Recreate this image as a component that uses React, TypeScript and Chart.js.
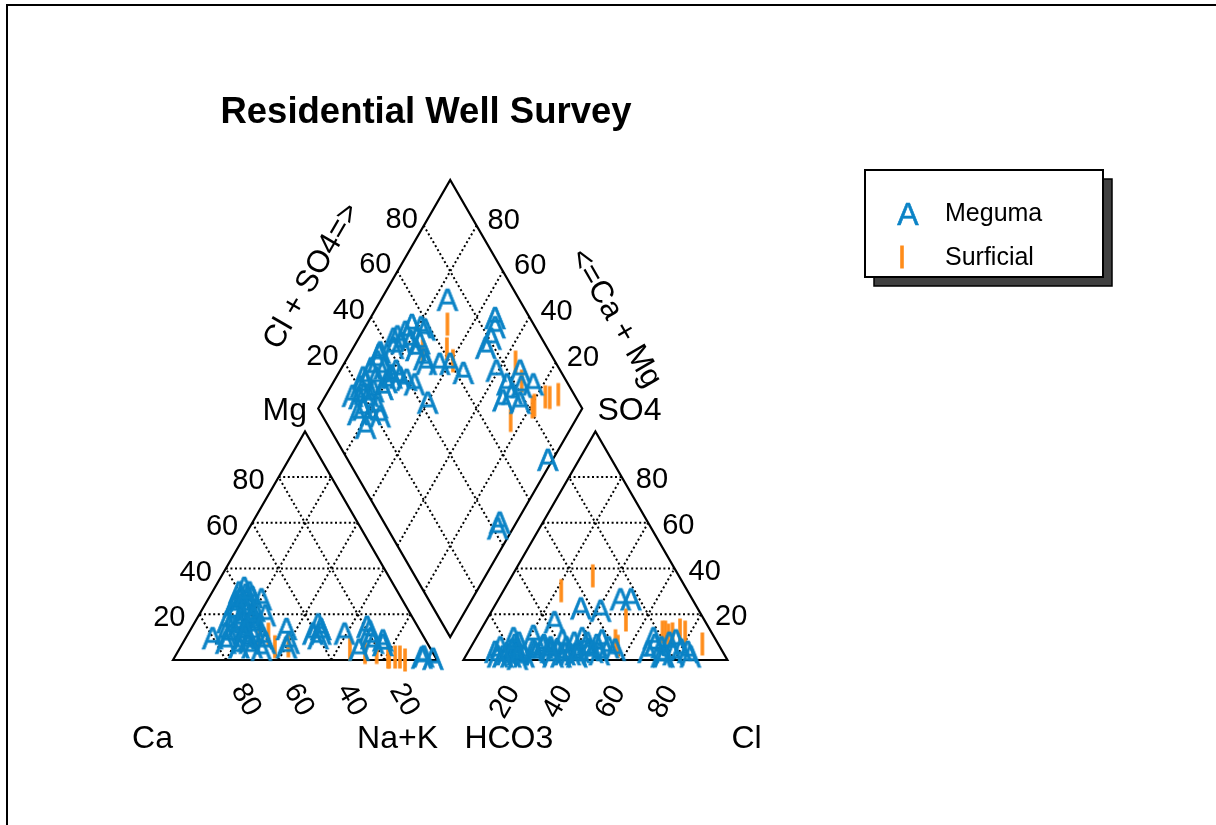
import React, { useEffect, useRef } from "react";
import { Chart, registerables } from "chart.js";

Chart.register(...registerables);

const FONT = "'Liberation Sans', Arial, Helvetica, sans-serif";
const TITLE = "Residential Well Survey";
const SERIES_NAMES = ["Meguma", "Surficial"];
const SERIES_COLORS = ["#0b83c6", "#ff8c1a"];
const TICKS = [20, 40, 60, 80];

// Meguma wells, percent of total cations / anions (meq/L)
const megumaCa = [59, 61, 62, 56, 56, 61, 59, 60, 64, 60, 61, 61, 50, 52, 41, 57, 61, 65, 64, 66, 67, 67, 64, 60, 64, 66, 67, 67, 67, 65, 58, 71, 73, 53, 60, 68, 54, 80, 76, 74, 70, 72, 63, 58, 66, 55, 37, 37, 40, 29, 19, 20, 19, 20, 17, 27, 16, 38, 1, 4, 5];
const megumaMg = [24, 18, 15, 28, 30, 22, 26, 20, 12, 16, 10, 8, 14, 8, 12, 32, 27, 24, 20, 14, 9, 6, 5, 30, 25, 21, 16, 12, 8, 18, 22, 17, 11, 27, 19, 10, 6, 10, 8, 12, 15, 6, 26, 29, 13, 20, 16, 14, 10, 12, 15, 10, 13, 8, 7, 5, 9, 12, 1, 2, 1.5];
const megumaCl = [47, 48, 52, 45, 38, 42, 36, 40, 50, 45, 43, 47, 33, 55, 41, 31, 27, 26, 27, 33, 33, 37, 33, 22, 16, 15, 11, 17, 18, 17, 25, 14, 19, 21, 36, 16, 26, 14, 10, 20, 24, 12, 30, 41, 30, 46, 83, 76, 78, 69, 75, 67, 80, 74, 85, 68, 72, 50, 74, 39, 42];
const megumaSO4 = [7, 9, 6, 5, 8, 4, 6, 10, 3, 5, 8, 4, 23, 5, 22, 4, 6, 3, 7, 2, 5, 3, 9, 2, 5, 3, 6, 2, 4, 8, 4, 10, 3, 11, 2, 7, 17, 2, 4, 1, 5, 2, 6, 3, 5, 27, 4, 9, 3, 7, 2, 10, 5, 8, 2, 4, 6, 27, 2, 3, 2];

// Surficial wells
const surficialCa = [58.2, 58.5, 53.2, 62, 21.2, 30.6, 25.6, 17.9, 17.5, 15.2, 13.4, 12.1];
const surficialMg = [11.3, 5.8, 6.2, 11, 3.3, 4.8, 3.3, 1.3, 1.3, 1.3, 1.3, 0];
const surficialCl = [30.6, 53.4, 55.5, 21.9, 52.8, 73.5, 72.2, 69.3, 70.4, 75.5, 77.9, 87.0];
const surficialSO4 = [36.8, 8.4, 6.0, 30.3, 17.5, 11.4, 10.9, 12.2, 12.2, 13.1, 12.2, 7.0];

// Piper geometry in diagram units: each triangle side is 100
const GAP = 10;
const H = Math.sqrt(3) / 2;
const ANION_X0 = 100 + GAP;

type Pt = { x: number; y: number };

function cationPt(ca: number, mg: number): Pt {
  const na = 100 - ca - mg;
  return { x: na + mg / 2, y: mg * H };
}
function anionPt(cl: number, so4: number): Pt {
  return { x: ANION_X0 + cl + so4 / 2, y: so4 * H };
}
function diamondPt(caMg: number, clSo4: number): Pt {
  return { x: 100 + GAP / 2 + (clSo4 - caMg) / 2, y: GAP * H + (caMg + clSo4) * H };
}

function projectAll(ca: number[], mg: number[], cl: number[], so4: number[]): Pt[] {
  const out: Pt[] = [];
  for (let i = 0; i < ca.length; i++) {
    out.push(cationPt(ca[i], mg[i]));
    out.push(anionPt(cl[i], so4[i]));
    out.push(diamondPt(ca[i] + mg[i], cl[i] + so4[i]));
  }
  return out;
}

function makeMarkA(color: string): HTMLCanvasElement {
  const c = document.createElement("canvas");
  c.width = 28;
  c.height = 28;
  const g = c.getContext("2d")!;
  g.fillStyle = color;
  g.strokeStyle = color;
  g.lineWidth = 0.6;
  g.font = `32px ${FONT}`;
  g.textAlign = "center";
  g.textBaseline = "alphabetic";
  g.fillText("A", 14, 25.5);
  g.strokeText("A", 14, 25.5);
  return c;
}

function makeMarkI(color: string): HTMLCanvasElement {
  const c = document.createElement("canvas");
  c.width = 8;
  c.height = 26;
  const g = c.getContext("2d")!;
  g.fillStyle = color;
  g.fillRect(2.2, 1.5, 3.6, 23);
  return c;
}

function makePiperPlugin(marks: HTMLCanvasElement[]) {
  return {
    id: "piperFrame",
    beforeDatasetsDraw(chart: any) {
      const ctx: CanvasRenderingContext2D = chart.ctx;
      const xs = chart.scales.x;
      const ys = chart.scales.y;
      const P = (p: Pt) => ({ x: xs.getPixelForValue(p.x), y: ys.getPixelForValue(p.y) });
      const seg = (a: Pt, b: Pt) => {
        const pa = P(a);
        const pb = P(b);
        ctx.beginPath();
        ctx.moveTo(pa.x, pa.y);
        ctx.lineTo(pb.x, pb.y);
        ctx.stroke();
      };
      const poly = (pts: Pt[]) => {
        ctx.beginPath();
        pts.forEach((p, i) => {
          const q = P(p);
          if (i === 0) ctx.moveTo(q.x, q.y);
          else ctx.lineTo(q.x, q.y);
        });
        ctx.closePath();
        ctx.stroke();
      };

      ctx.save();
      // outer figure frame
      ctx.strokeStyle = "#000";
      ctx.lineWidth = 2;
      ctx.strokeRect(7, 5, 1300, 900);

      // dotted grids
      ctx.lineWidth = 2;
      ctx.setLineDash([2, 2.6]);
      for (const k of TICKS) {
        seg(cationPt(100 - k, k), cationPt(0, k));
        seg(cationPt(k, 0), cationPt(k, 100 - k));
        seg(cationPt(100 - k, 0), cationPt(0, 100 - k));
        seg(anionPt(0, k), anionPt(100 - k, k));
        seg(anionPt(k, 0), anionPt(k, 100 - k));
        seg(anionPt(100 - k, 0), anionPt(0, 100 - k));
        seg(diamondPt(k, 0), diamondPt(k, 100));
        seg(diamondPt(0, k), diamondPt(100, k));
      }
      ctx.setLineDash([]);

      // outlines
      ctx.lineWidth = 2.2;
      ctx.lineJoin = "miter";
      poly([cationPt(100, 0), cationPt(0, 100), cationPt(0, 0)]);
      poly([anionPt(0, 0), anionPt(0, 100), anionPt(100, 0)]);
      poly([diamondPt(0, 0), diamondPt(100, 0), diamondPt(100, 100), diamondPt(0, 100)]);

      // tick labels
      ctx.fillStyle = "#000";
      ctx.font = `29px ${FONT}`;
      ctx.textBaseline = "middle";
      for (const k of TICKS) {
        const t = String(k);
        let p = P(cationPt(100 - k, k));
        ctx.textAlign = "right";
        ctx.fillText(t, p.x - 14, p.y + 4);

        p = P(anionPt(100 - k, k));
        ctx.textAlign = "left";
        ctx.fillText(t, p.x + 14, p.y + 3);

        p = P(diamondPt(100, k));
        ctx.textAlign = "right";
        ctx.fillText(t, p.x - 6, p.y - 6);

        p = P(diamondPt(k, 100));
        ctx.textAlign = "left";
        ctx.fillText(t, p.x + 11, p.y - 5);

        ctx.textAlign = "center";
        p = P(cationPt(k, 0));
        ctx.save();
        ctx.translate(p.x + 20, p.y + 40);
        ctx.rotate(Math.PI / 3);
        ctx.fillText(t, 0, 0);
        ctx.restore();

        p = P(anionPt(k, 0));
        ctx.save();
        ctx.translate(p.x - 11, p.y + 42);
        ctx.rotate(-Math.PI / 3);
        ctx.fillText(t, 0, 0);
        ctx.restore();
      }

      // component names
      ctx.font = `32px ${FONT}`;
      ctx.textBaseline = "alphabetic";
      let p = P(cationPt(100, 0));
      ctx.textAlign = "right";
      ctx.fillText("Ca", p.x, p.y + 88);
      p = P(cationPt(0, 0));
      ctx.fillText("Na+K", p.x + 1, p.y + 88);
      p = P(cationPt(0, 100));
      ctx.fillText("Mg", p.x + 2, p.y - 11);
      ctx.textAlign = "left";
      p = P(anionPt(0, 0));
      ctx.fillText("HCO3", p.x + 1, p.y + 88);
      p = P(anionPt(100, 0));
      ctx.fillText("Cl", p.x + 4, p.y + 88);
      p = P(anionPt(0, 100));
      ctx.fillText("SO4", p.x + 2, p.y - 11);

      ctx.font = `31px ${FONT}`;
      ctx.textAlign = "center";
      ctx.textBaseline = "middle";
      p = P(diamondPt(100, 50));
      ctx.save();
      ctx.translate(p.x - 72, p.y - 18);
      ctx.rotate(-Math.PI / 3);
      ctx.fillText("Cl + SO4=>", 0, 0);
      ctx.restore();
      p = P(diamondPt(50, 100));
      ctx.save();
      ctx.translate(p.x + 99, p.y + 24);
      ctx.rotate(Math.PI / 3);
      ctx.fillText("<=Ca + Mg", 0, 0);
      ctx.restore();
      ctx.restore();
    },
    afterDraw(chart: any) {
      const ctx: CanvasRenderingContext2D = chart.ctx;
      ctx.save();
      // title
      ctx.fillStyle = "#000";
      ctx.font = `bold 36.5px ${FONT}`;
      ctx.textAlign = "center";
      ctx.textBaseline = "alphabetic";
      ctx.fillText(TITLE, 426, 123);

      // legend with drop shadow
      const bx = 865, by = 170, bw = 238, bh = 107, sh = 9;
      ctx.fillStyle = "#404040";
      ctx.fillRect(bx + sh, by + sh, bw, bh);
      ctx.strokeStyle = "#000";
      ctx.lineWidth = 1.5;
      ctx.strokeRect(bx + sh, by + sh, bw, bh);
      ctx.fillStyle = "#fff";
      ctx.fillRect(bx, by, bw, bh);
      ctx.lineWidth = 2;
      ctx.strokeRect(bx, by, bw, bh);

      const rows = [by + 43, by + 87];
      const iconX = [bx + 43, bx + 37];
      ctx.font = `25px ${FONT}`;
      ctx.textAlign = "left";
      ctx.textBaseline = "middle";
      ctx.fillStyle = "#000";
      SERIES_NAMES.forEach((name, i) => {
        const m = marks[i];
        ctx.drawImage(m, iconX[i] - m.width / 2, rows[i] - m.height / 2);
        ctx.fillText(name, bx + 80, rows[i] + 1);
      });
      ctx.restore();
    },
  };
}

export default function App() {
  const ref = useRef<HTMLCanvasElement | null>(null);

  useEffect(() => {
    const canvas = ref.current;
    if (!canvas) return;
    const markA = makeMarkA(SERIES_COLORS[0]);
    const markI = makeMarkI(SERIES_COLORS[1]);
    const megumaPts = projectAll(megumaCa, megumaMg, megumaCl, megumaSO4);
    const surficialPts = projectAll(surficialCa, surficialMg, surficialCl, surficialSO4);

    const chart = new Chart(canvas, {
      type: "scatter",
      data: {
        datasets: [
          {
            label: SERIES_NAMES[0],
            data: megumaPts,
            pointStyle: markA as any,
            pointRadius: 10,
            borderColor: SERIES_COLORS[0],
            backgroundColor: SERIES_COLORS[0],
            clip: false as any,
          },
          {
            label: SERIES_NAMES[1],
            data: surficialPts,
            pointStyle: markI as any,
            pointRadius: 10,
            borderColor: SERIES_COLORS[1],
            backgroundColor: SERIES_COLORS[1],
            clip: false as any,
          },
        ],
      },
      options: {
        animation: false,
        responsive: false,
        events: [],
        layout: { padding: { left: 173, top: 158.4, right: 488.6, bottom: 165 } },
        scales: {
          x: { type: "linear", min: 0, max: 210, display: false },
          y: { type: "linear", min: 0, max: 190, display: false },
        },
        plugins: {
          legend: { display: false },
          title: { display: false },
          tooltip: { enabled: false },
        },
      },
      plugins: [makePiperPlugin([markA, markI])],
    });
    return () => chart.destroy();
  }, []);

  return (
    <div style={{ position: "fixed", left: 0, top: 0, width: 1216, height: 825, background: "#fff" }}>
      <canvas ref={ref} width={1216} height={825} style={{ display: "block" }} />
    </div>
  );
}
